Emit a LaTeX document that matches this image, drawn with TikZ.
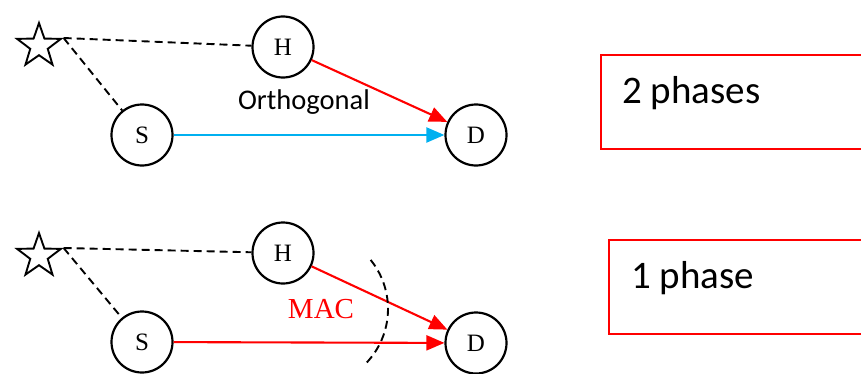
\documentclass[tikz,border=0pt]{standalone}
\usepackage{fontspec}
\setmainfont{Liberation Serif}
\newfontfamily\calib{Carlito}
\usepackage{xcolor}
\usetikzlibrary{arrows.meta,shapes.geometric}
\definecolor{linkblue}{RGB}{0,176,240}

\begin{document}
\begin{tikzpicture}[x=1pt,y=1pt,>={Triangle[length=18pt,width=15pt]},
      node distance=1cm,
      nd/.style={draw,circle,line width=2.2pt,minimum size=61pt,inner sep=0pt,font=\fontsize{25}{27}\selectfont},
      src/.style={draw,star,star points=5,star point ratio=2.5,minimum size=46pt,inner sep=0pt,line width=1.9pt},
      link/.style={->,line width=2.1pt},
      dsh/.style={line width=1.9pt,dash pattern=on 8pt off 5pt},
      phasebox/.style={draw=red,line width=1.6pt,minimum width=320pt,minimum height=94pt,inner sep=0pt},
      phasetxt/.style={anchor=base west,inner sep=0pt,font=\calib\fontsize{39}{42}\selectfont}]
    \useasboundingbox (0,0) rectangle (861,373);
    \clip (0,0) rectangle (861,373);
    % two phases
    \node[src] (St1) at (39,327) {};
    \node[nd] (H1) at (283,326) {H};
    \node[nd] (S1) at (142,238) {S};
    \node[nd] (D1) at (476,238) {D};
    \draw[dsh] (St1.outer point 5) -- (H1);
    \draw[dsh] (St1.outer point 5) -- (S1);
    \draw[link,red] (H1) -- (D1);
    \draw[link,linkblue] (S1) -- (D1);
    \node[anchor=base,font=\calib\fontsize{28.5}{30}\selectfont] (orth) at (304,264) {Orthogonal};
    \node[phasebox] (B1) at (761,271) {};
    \node[phasetxt] (T1) at (622,270) {2 phases};
    % one phase
    \node[src] (St2) at (39,117) {};
    \node[nd] (H2) at (283,120) {H};
    \node[nd] (S2) at (142,31) {S};
    \node[nd] (D2) at (476,30) {D};
    \draw[dsh] (St2.outer point 5) -- (H2);
    \draw[dsh] (St2.outer point 5) -- (S2);
    \draw[link,red] (H2) -- (D2);
    \draw[link,red] (S2) -- (D2);
    \node[anchor=base,red,font=\fontsize{29}{31}\selectfont] (mac) at (321,55) {MAC};
    \draw[dsh] (310,64) ++(39:78pt) arc[start angle=39,end angle=-44,radius=78pt];
    \node[phasebox] (B2) at (769,86) {};
    \node[phasetxt] (T2) at (631,85) {1 phase};
  \end{tikzpicture}
\end{document}
